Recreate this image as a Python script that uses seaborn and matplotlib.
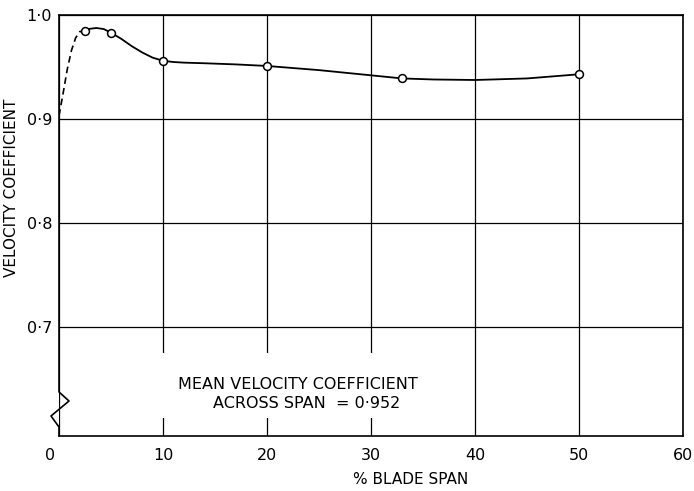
import matplotlib
matplotlib.use("Agg")
import matplotlib.pyplot as plt
import matplotlib.transforms as mtransforms
from matplotlib.patches import Rectangle
import seaborn as sns
import pandas as pd

# measured points (open circles)
span_pts = [2.5, 5, 10, 20, 33, 50]
coef_pts = [0.985, 0.983, 0.956, 0.951, 0.939, 0.943]

# dashed extrapolation to the wall
dash_x = [0, 0.4, 0.8, 1.2, 1.6, 2.0, 2.5]
dash_y = [0.903, 0.925, 0.948, 0.966, 0.978, 0.984, 0.985]

# faired solid curve
curve_x = [2.5, 3.0, 3.6, 4.3, 5.0, 6.0, 7.0, 8.0, 9.0, 10, 11, 12, 14, 17, 20,
           25, 30, 33, 36, 40, 45, 50]
curve_y = [0.985, 0.9868, 0.9875, 0.9865, 0.983, 0.977, 0.970, 0.964, 0.959,
           0.956, 0.9548, 0.9542, 0.9536, 0.9525, 0.951, 0.947, 0.942, 0.939,
           0.938, 0.9375, 0.939, 0.943]

x_ticks = [0, 10, 20, 30, 40, 50, 60]
x_ticklabels = ["0", "10", "20", "30", "40", "50", "60"]
y_ticks = [0.7, 0.8, 0.9, 1.0]
y_ticklabels = ["0·7", "0·8", "0·9", "1·0"]

sns.set_style("white")
plt.rcParams["font.family"] = ["DejaVu Sans"]
plt.rcParams["text.color"] = "black"
plt.rcParams["axes.labelcolor"] = "black"
plt.rcParams["xtick.color"] = "black"
plt.rcParams["ytick.color"] = "black"

fig = plt.figure(figsize=(6.94, 4.91), dpi=100)
ax = fig.add_axes([59 / 694, 55 / 491, 624 / 694, 421 / 491])

df_dash = pd.DataFrame({"x": dash_x, "y": dash_y})
df_curve = pd.DataFrame({"x": curve_x, "y": curve_y})
df_pts = pd.DataFrame({"x": span_pts, "y": coef_pts})

sns.lineplot(data=df_dash, x="x", y="y", ax=ax, color="black", lw=1.2,
             linestyle=(0, (4, 2.5)), sort=False, estimator=None, zorder=4)
sns.lineplot(data=df_curve, x="x", y="y", ax=ax, color="black", lw=1.3,
             sort=False, estimator=None, zorder=4)
sns.scatterplot(data=df_pts, x="x", y="y", ax=ax, s=32, facecolor="white",
                edgecolor="black", linewidth=1.1, zorder=5, marker="o")

ax.set_xlim(0, 60)
ax.set_ylim(0.5952, 1.0)
ax.set_xticks(x_ticks)
ax.set_xticklabels(x_ticklabels, fontsize=11.5)
ax.set_yticks(y_ticks)
ax.set_yticklabels(y_ticklabels, fontsize=11.5)
ax.tick_params(axis="both", length=0, colors="black")
ax.tick_params(axis="x", pad=9)
ax.tick_params(axis="y", pad=5)

# shift the corner "0" label to the left
lab0 = ax.get_xticklabels()[0]
lab0.set_transform(lab0.get_transform() +
                   mtransforms.ScaledTranslation(-9 / 100, 0, fig.dpi_scale_trans))

ax.grid(True, color="black", lw=0.9)
ax.set_axisbelow(True)

for side in ["top", "right", "bottom"]:
    ax.spines[side].set_color("black")
    ax.spines[side].set_linewidth(1.2)
ax.spines["left"].set_visible(False)

# left axis with break symbol
bx = [0, 0, 10 / 624, -8 / 624, 0, 0]
by = [1, 44 / 421, 35 / 421, 20 / 421, 9 / 421, 0]
ax.plot(bx, by, color="black", lw=1.2, transform=ax.transAxes, clip_on=False,
        zorder=6)

ax.set_xlabel("% BLADE SPAN", fontsize=11)
ax.xaxis.set_label_coords((411 - 59) / 624, -(472 - 436) / 421)
ax.set_ylabel("VELOCITY COEFFICIENT", fontsize=11)
ax.yaxis.set_label_coords(-(59 - 19) / 624, (436 - 188) / 421)

# white box for annotation (interrupts grid lines)
ax.add_patch(Rectangle((9.6, 0.6125), 27.0, 0.0625, facecolor="white",
                       edgecolor="none", zorder=2))
ax.text(23.0, 0.6445, "MEAN VELOCITY COEFFICIENT", fontsize=11.5,
        ha="center", va="center", zorder=3)
ax.text(23.8, 0.6265, "ACROSS SPAN  = 0·952", fontsize=11.5,
        ha="center", va="center", zorder=3)

fig.savefig("out.png", dpi=100, facecolor="white")
